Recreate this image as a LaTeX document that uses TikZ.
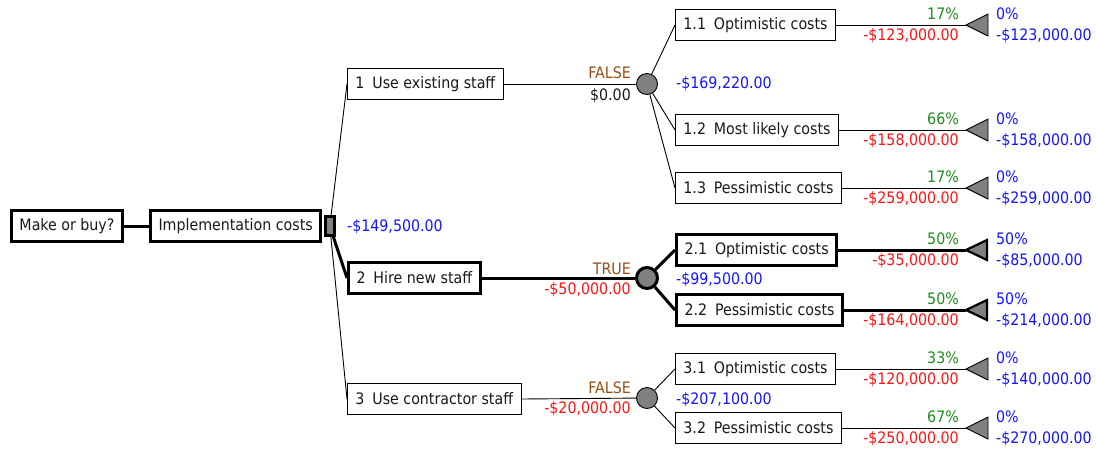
\documentclass[tikz,border=0pt]{standalone}
\usepackage{fontspec}
\setmainfont{DejaVu Sans Condensed}
\usetikzlibrary{backgrounds}
\definecolor{vblue}{RGB}{20,20,255}
\definecolor{vred}{RGB}{255,20,20}
\definecolor{vgreen}{RGB}{30,140,30}
\definecolor{vbrown}{RGB}{150,80,20}
\definecolor{vgray}{RGB}{128,128,128}
\definecolor{vtext}{RGB}{25,25,25}
\newcommand{\sep}{\hspace{0.5em}}
\begin{document}
\begin{tikzpicture}[x=1pt,y=1pt,
  every node/.style={font=\fontsize{15.8}{17}\selectfont},
  box/.style={draw, anchor=west, minimum height=31pt, inner xsep=8pt, inner ysep=0pt, text=vtext, fill=white},
  thin/.style={line width=0.9pt},
  heavy/.style={line width=3pt},
  chance/.style={circle, draw, fill=vgray, minimum size=21pt, inner sep=0pt},
  decision/.style={rectangle, draw, fill=vgray, minimum width=9pt, minimum height=19pt, inner sep=0pt, anchor=west},
  leafmark/.style={fill=vgray, draw, line join=miter},
  lbl/.style={inner sep=0pt},
  prob/.style={lbl, anchor=east, text=vgreen},
  val/.style={lbl, anchor=east, text=vred},
  res/.style={lbl, anchor=west, text=vblue},
  bool/.style={lbl, anchor=east, text=vbrown}]
\useasboundingbox (0,0) rectangle (1096,-448);

% root
\node[box, heavy] (mob) at (10,-226) {Make or buy?};
\node[box, heavy] (impl) at (149,-226) {Implementation costs};
\node[decision, heavy] (sq) at ([xshift=1.5pt]impl.east) {};
\node[res] (ev0) at (347,-227) {-\$149,500.00};

% options
\node[box, thin] (b1) at (347,-84) {1\sep Use existing staff};
\node[box, heavy] (b2) at (347,-278) {2\sep Hire new staff};
\node[box, thin] (b3) at (347,-399) {3\sep Use contractor staff};

\node[chance, thin] (c1) at (647,-84) {};
\node[chance, heavy] (c2) at (647,-278) {};
\node[chance, thin] (c3) at (647,-398) {};

\node[bool] (f1) at (631,-73) {FALSE};
\node[lbl, anchor=east, text=vtext] (v1) at (631,-96) {\$0.00};
\node[bool] (f2) at (631,-269) {TRUE};
\node[val] (v2) at (631,-290) {-\$50,000.00};
\node[bool] (f3) at (631,-388) {FALSE};
\node[val] (v3) at (631,-409) {-\$20,000.00};

\node[res] (ev1) at (676,-84) {-\$169,220.00};
\node[res] (ev2) at (676,-280) {-\$99,500.00};
\node[res] (ev3) at (676,-400) {-\$207,100.00};

% outcomes
\node[box, thin] (b11) at (675,-25) {1.1\sep Optimistic costs};
\node[box, thin] (b12) at (675,-130) {1.2\sep Most likely costs};
\node[box, thin] (b13) at (675,-188) {1.3\sep Pessimistic costs};
\node[box, heavy] (b21) at (675,-250) {2.1\sep Optimistic costs};
\node[box, heavy] (b22) at (675,-310) {2.2\sep Pessimistic costs};
\node[box, thin] (b31) at (675,-369) {3.1\sep Optimistic costs};
\node[box, thin] (b32) at (675,-428) {3.2\sep Pessimistic costs};

\foreach \n/\y in {11/-25,12/-130,13/-188,21/-250,22/-310,31/-369,32/-428}{
  \coordinate (t\n) at (966,\y);
}

% leaf labels
\node[prob] (p11) at (959,-14) {17\%};
\node[val] (w11) at (959,-36) {-\$123,000.00};
\node[res] (r11) at (996,-14) {0\%};
\node[res] (s11) at (996,-36) {-\$123,000.00};

\node[prob] (p12) at (959,-119) {66\%};
\node[val] (w12) at (959,-141) {-\$158,000.00};
\node[res] (r12) at (996,-119) {0\%};
\node[res] (s12) at (996,-141) {-\$158,000.00};

\node[prob] (p13) at (959,-177) {17\%};
\node[val] (w13) at (959,-199) {-\$259,000.00};
\node[res] (r13) at (996,-177) {0\%};
\node[res] (s13) at (996,-199) {-\$259,000.00};

\node[prob] (p21) at (959,-239) {50\%};
\node[val] (w21) at (959,-261) {-\$35,000.00};
\node[res] (r21) at (996,-239) {50\%};
\node[res] (s21) at (996,-261) {-\$85,000.00};

\node[prob] (p22) at (959,-299) {50\%};
\node[val] (w22) at (959,-321) {-\$164,000.00};
\node[res] (r22) at (996,-299) {50\%};
\node[res] (s22) at (996,-321) {-\$214,000.00};

\node[prob] (p31) at (959,-358) {33\%};
\node[val] (w31) at (959,-380) {-\$120,000.00};
\node[res] (r31) at (996,-358) {0\%};
\node[res] (s31) at (996,-380) {-\$140,000.00};

\node[prob] (p32) at (959,-417) {67\%};
\node[val] (w32) at (959,-439) {-\$250,000.00};
\node[res] (r32) at (996,-417) {0\%};
\node[res] (s32) at (996,-439) {-\$270,000.00};

% terminal triangles
\foreach \n/\w in {11/thin,12/thin,13/thin,31/thin,32/thin}{
  \filldraw[leafmark, \w] (t\n) -- ++(22,11) -- ++(0,-22) -- cycle;
}
\foreach \n in {21,22}{
  \filldraw[leafmark, line width=2.2pt] (t\n) -- ++(21,10) -- ++(0,-20) -- cycle;
}

% connectors
\begin{scope}[on background layer]
\draw[heavy] (mob) -- (impl);
\draw[thin] (sq.center) -- (b1.west);
\draw[heavy] (sq.center) -- (b2.west);
\draw[thin] (sq.center) -- (b3.west);
\draw[thin] (b1.east) -- (c1);
\draw[heavy] (b2.east) -- (c2);
\draw[thin] (b3.east) -- (c3);
\draw[thin] (c1) -- (b11.west);
\draw[thin] (c1) -- (b12.west);
\draw[thin] (c1) -- (b13.west);
\draw[heavy] (c2) -- (b21.west);
\draw[heavy] (c2) -- (b22.west);
\draw[thin] (c3) -- (b31.west);
\draw[thin] (c3) -- (b32.west);
\draw[thin] (b11.east) -- (t11);
\draw[thin] (b12.east) -- (t12);
\draw[thin] (b13.east) -- (t13);
\draw[heavy] (b21.east) -- (t21);
\draw[heavy] (b22.east) -- (t22);
\draw[thin] (b31.east) -- (t31);
\draw[thin] (b32.east) -- (t32);
\end{scope}
\end{tikzpicture}
\end{document}
